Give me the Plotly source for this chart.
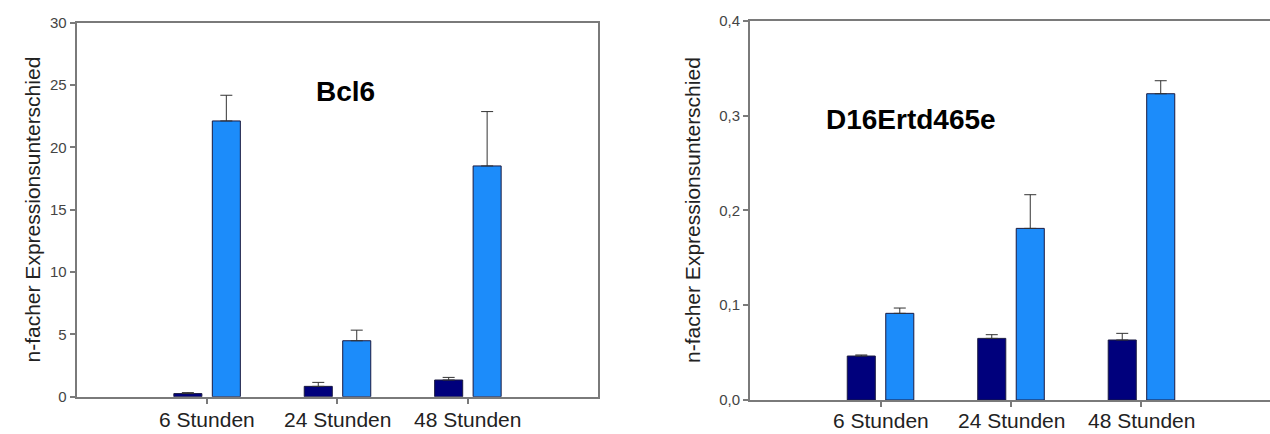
import plotly.graph_objects as go

# Time points and expression values (fold change) with upper error bars
categories = ["6 Stunden", "24 Stunden", "48 Stunden"]
positions = [0, 1, 2]

bcl6_dark = [0.25, 0.83, 1.34]
bcl6_dark_err = [0.08, 0.32, 0.21]
bcl6_light = [22.12, 4.49, 18.51]
bcl6_light_err = [2.06, 0.85, 4.36]

d16_dark = [0.0464, 0.065, 0.0633]
d16_dark_err = [0.0011, 0.0039, 0.007]
d16_light = [0.0914, 0.181, 0.323]
d16_light_err = [0.0056, 0.0355, 0.0137]

left_ticks = [0, 5, 10, 15, 20, 25, 30]
right_ticks = [0.0, 0.1, 0.2, 0.3, 0.4]

DARK = "#00007c"
LIGHT = "#1c8cfa"
OUTLINE = "#1a1a40"
AXIS = "#7a7a7a"
FONT = "Liberation Sans, Arial, sans-serif"

BAR_W = 0.215


def bar(y, err, color, offset, xa, ya):
    return go.Bar(
        x=positions, y=y, width=BAR_W, offset=offset,
        marker=dict(color=color, line=dict(color=OUTLINE, width=1)),
        error_y=dict(type="data", symmetric=False, array=err,
                     arrayminus=[0] * len(err), color="#333333",
                     thickness=1, width=6),
        xaxis=xa, yaxis=ya, showlegend=False, hoverinfo="skip",
    )


fig = go.Figure()
fig.add_trace(bar(bcl6_dark, bcl6_dark_err, DARK, -0.255, "x", "y"))
fig.add_trace(bar(bcl6_light, bcl6_light_err, LIGHT, 0.04, "x", "y"))
fig.add_trace(bar(d16_dark, d16_dark_err, DARK, -0.255, "x2", "y2"))
fig.add_trace(bar(d16_light, d16_light_err, LIGHT, 0.04, "x2", "y2"))

xcommon = dict(
    tickvals=positions, showticklabels=False, ticks="outside", ticklen=5,
    tickcolor=AXIS, tickwidth=1.5, showline=True, linecolor=AXIS, linewidth=2,
    mirror=True, showgrid=False, zeroline=False, automargin=False,
)
ycommon = dict(
    ticks="outside", ticklen=5, tickcolor=AXIS, tickwidth=1.5,
    showline=True, linecolor=AXIS, linewidth=2, mirror=True,
    showgrid=False, zeroline=False, automargin=False,
    tickfont=dict(family=FONT, size=15, color="#444444"),
)

label_font = dict(family=FONT, size=21, color="#222222")

annotations = [
    dict(text="<b>Bcl6</b>", x=1.06, y=24.46, xref="x", yref="y",
         showarrow=False, font=dict(family=FONT, size=28, color="black")),
    dict(text="<b>D16Ertd465e</b>", x=0.23, y=0.2953, xref="x2",
         yref="y2", showarrow=False,
         font=dict(family=FONT, size=28, color="black")),
    dict(text="n-facher Expressionsunterschied", x=18 / 1270,
         y=1 - 210 / 434, xref="paper", yref="paper", textangle=-90,
         showarrow=False, font=label_font),
    dict(text="n-facher Expressionsunterschied", x=692 / 1270,
         y=1 - 210 / 434, xref="paper", yref="paper", textangle=-90,
         showarrow=False, font=label_font),
]

# Category labels under each panel's x axis
for xref, ypix in (("x", 419), ("x2", 420)):
    for pos, name in zip(positions, categories):
        annotations.append(dict(
            text=name, x=pos, y=1 - ypix / 434, xref=xref, yref="paper",
            xanchor="center", yanchor="middle", showarrow=False,
            font=label_font,
        ))

fig.update_layout(
    width=1270, height=434,
    margin=dict(l=0, r=0, t=0, b=0, autoexpand=False),
    paper_bgcolor="white", plot_bgcolor="white",
    separators=",.",
    barmode="overlay",
    xaxis=dict(domain=[0.0604, 0.4711], range=[-1, 3], **xcommon),
    yaxis=dict(domain=[0.0859, 0.9477], range=[0, 30], tickvals=left_ticks,
               **ycommon),
    xaxis2=dict(domain=[0.5906, 1.0], range=[-1, 2.985], anchor="y2",
                **xcommon),
    yaxis2=dict(domain=[0.0783, 0.9523], range=[0, 0.4], tickvals=right_ticks,
                tickformat=".1f", anchor="x2", **ycommon),
    annotations=annotations,
)

fig.write_html("out.html")
